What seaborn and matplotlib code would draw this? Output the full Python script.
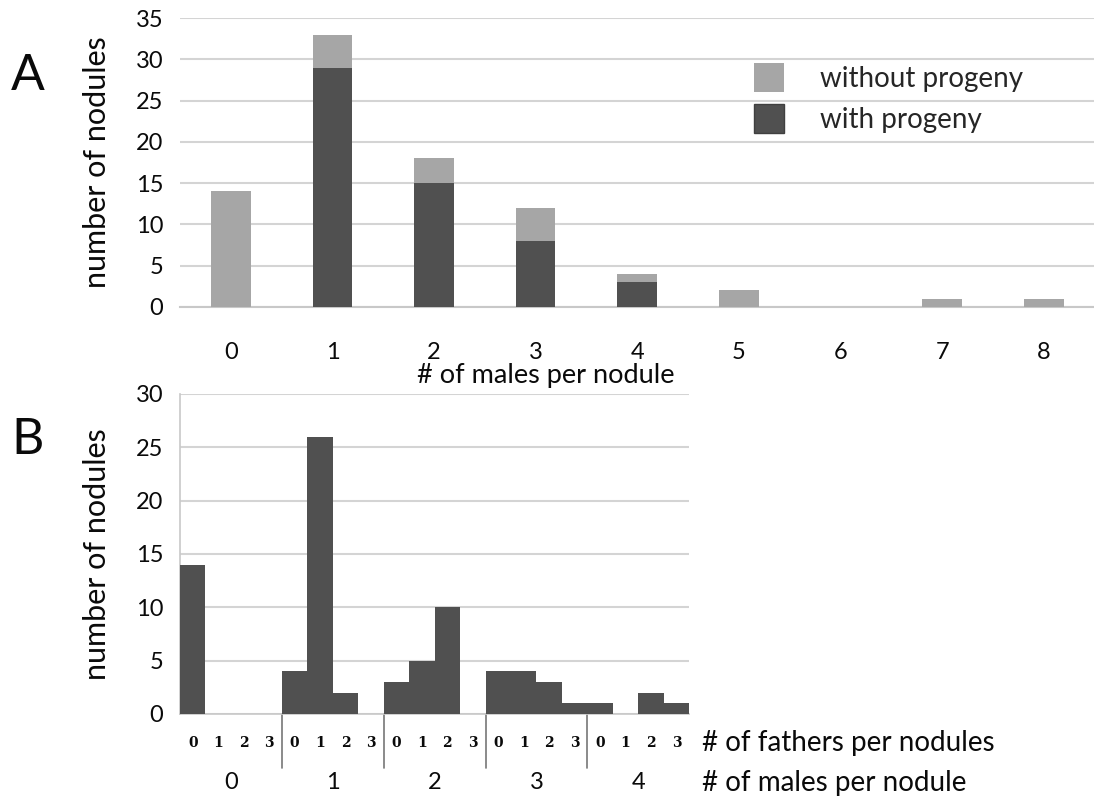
import matplotlib
matplotlib.use("Agg")
import matplotlib.pyplot as plt
import matplotlib.transforms as mtransforms
from matplotlib.patches import Patch
import seaborn as sns
import pandas as pd

# ---------------- data ----------------
males_a = ["0", "1", "2", "3", "4", "5", "6", "7", "8"]
total_a = [14, 33, 18, 12, 4, 2, 0, 1, 1]          # with + without progeny
with_progeny_a = [0, 29, 15, 8, 3, 0, 0, 0, 0]

males_b = ["0", "1", "2", "3", "4"]
fathers_b = ["0", "1", "2", "3"]
counts_b = [14, 0, 0, 0,
            4, 26, 2, 0,
            3, 5, 10, 0,
            4, 4, 3, 1,
            1, 0, 2, 1]

LIGHT = "#a6a6a6"
DARK = "#505050"
GRID = "#d4d4d4"
TXT = "#0a0a0a"

sns.set_theme(style="white")
plt.rcParams["font.family"] = ["Lato", "DejaVu Sans"]

fig = plt.figure(figsize=(10.94, 7.98), dpi=100)

# ---------------- panel A ----------------
axA = fig.add_axes([0.1645, 0.6153, 0.836, 0.3621])
dfA = pd.DataFrame({"males": males_a, "total": total_a, "with": with_progeny_a})
sns.barplot(data=dfA, x="males", y="total", order=males_a, color=LIGHT,
            width=0.39, linewidth=0, saturation=1, ax=axA, zorder=3)
sns.barplot(data=dfA, x="males", y="with", order=males_a, color=DARK,
            width=0.39, linewidth=0, saturation=1, ax=axA, zorder=4)
axA.set_xlim(-0.5, 8.5)
axA.set_ylim(0, 35)
axA.set_yticks(range(0, 36, 5))
axA.yaxis.grid(True, color=GRID, linewidth=1.5, zorder=0)
axA.set_axisbelow(True)
for s in ["top", "right", "left"]:
    axA.spines[s].set_visible(False)
axA.spines["bottom"].set_color("#c8c8c8")
axA.spines["bottom"].set_linewidth(1.5)
axA.tick_params(axis="y", length=0, labelsize=17, pad=12, colors=TXT)
axA.tick_params(axis="x", which="major", length=0, labelsize=17, pad=25, colors=TXT)
axA.set_xticks([i + 0.5 for i in range(9)], minor=True)
axA.tick_params(axis="x", which="minor", length=7, width=1.2, color="#bbbbbb", direction="out")
axA.set_xlabel("# of males per nodule", fontsize=19.5, color=TXT)
axA.xaxis.set_label_coords(0.40, -0.195)
axA.set_ylabel("number of nodules", fontsize=22, labelpad=18, color=TXT)

handles = [Patch(facecolor=LIGHT, edgecolor="none", label="without progeny"),
           Patch(facecolor=DARK, edgecolor="#404040", label="with progeny")]
axA.legend(handles=handles, loc="upper left", bbox_to_anchor=(0.6, 0.93),
           frameon=False, fontsize=20, handlelength=1.1, handleheight=1.2,
           handletextpad=1.3, labelspacing=0.45)

fig.text(0.010, 0.905, "A", fontsize=36, va="center", ha="left", color=TXT)

# ---------------- panel B ----------------
axB = fig.add_axes([0.1645, 0.1053, 0.4655, 0.401])
positions = [f"{m}-{f}" for m in males_b for f in fathers_b]
dfB = pd.DataFrame({"pos": positions, "count": counts_b})
sns.barplot(data=dfB, x="pos", y="count", order=positions, color=DARK,
            width=1.0, linewidth=0, saturation=1, ax=axB, zorder=3)
axB.set_xlim(-0.5, len(positions) - 0.5)
axB.set_ylim(0, 30)
axB.set_yticks(range(0, 31, 5))
axB.yaxis.grid(True, color=GRID, linewidth=1.5, zorder=0)
axB.set_axisbelow(True)
for s in ["top", "right"]:
    axB.spines[s].set_visible(False)
for s in ["left", "bottom"]:
    axB.spines[s].set_color("#c8c8c8")
    axB.spines[s].set_linewidth(1.2)
axB.set_xticks([])
axB.set_xlabel("")
axB.tick_params(axis="y", length=0, labelsize=17, pad=12, colors=TXT)
axB.set_ylabel("number of nodules", fontsize=22, labelpad=18, color=TXT)

trans = mtransforms.blended_transform_factory(axB.transData, axB.transAxes)
for i, lab in enumerate(positions):
    axB.text(i, -0.09, lab.split("-")[1], transform=trans, ha="center", va="center",
             fontsize=10, fontweight="bold", family="DejaVu Serif", color=TXT)
for g, m in enumerate(males_b):
    axB.text(g * 4 + 1.5, -0.215, m, transform=trans, ha="center", va="center",
             fontsize=17, color=TXT)
for g in range(1, len(males_b)):
    axB.plot([g * 4 - 0.5, g * 4 - 0.5], [0, -0.17], transform=trans,
             color="#777777", linewidth=1.2, clip_on=False)

axB.text(1.025, -0.09, "# of fathers per nodules", transform=axB.transAxes,
         ha="left", va="center", fontsize=20, color=TXT)
axB.text(1.025, -0.215, "# of males per nodule", transform=axB.transAxes,
         ha="left", va="center", fontsize=20, color=TXT)

fig.text(0.010, 0.448, "B", fontsize=36, va="center", ha="left", color=TXT)

fig.savefig("out.png", dpi=100, facecolor="white")
